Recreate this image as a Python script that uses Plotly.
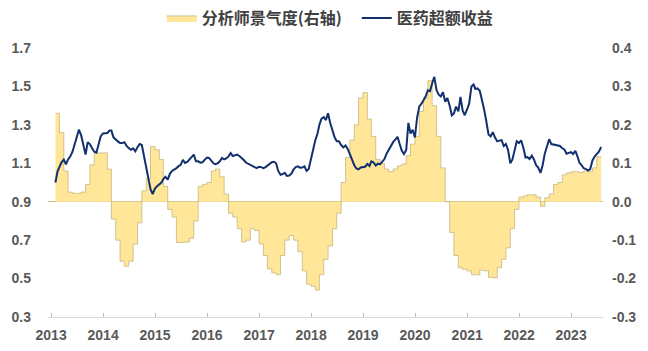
import pandas as pd
import plotly.graph_objects as go

# ---------------- data ----------------
series_area_name = "分析师景气度(右轴)"
series_line_name = "医药超额收益"

# monthly analyst sentiment (right axis), Jan 2013 .. Jun 2023 (month-end)
area_values = [
    0.23, 0.18, 0.08, 0.025, 0.022, 0.022, 0.025, 0.045, 0.096, 0.127,
    0.127, 0.127, 0.085, -0.045, -0.10, -0.155, -0.168, -0.155, -0.11, -0.055,
    0.028, 0.06, 0.144, 0.135, 0.11, 0.04, -0.02, -0.04, -0.106, -0.106,
    -0.105, -0.095, -0.05, 0.04, 0.045, 0.05, 0.08, 0.085, 0.065, 0.02,
    -0.03, -0.04, -0.07, -0.105, -0.10, -0.07, -0.075, -0.11, -0.14, -0.175,
    -0.185, -0.19, -0.14, -0.10, -0.088, -0.10, -0.13, -0.18, -0.215, -0.22,
    -0.23, -0.19, -0.15, -0.115, -0.07, -0.03, 0.05, 0.115, 0.16, 0.20,
    0.27, 0.284, 0.215, 0.17, 0.11, 0.10, 0.085, 0.078, 0.085, 0.093,
    0.098, 0.12, 0.15, 0.17, 0.235, 0.27, 0.315, 0.25, 0.17, 0.088,
    0.0, -0.08, -0.14, -0.172, -0.176, -0.18, -0.19, -0.19, -0.178, -0.18,
    -0.197, -0.198, -0.172, -0.15, -0.12, -0.07, -0.02, 0.012, 0.015, 0.018,
    0.018, 0.012, -0.012, 0.01, 0.02, 0.045, 0.05, 0.07, 0.075, 0.078,
    0.078, 0.076, 0.08, 0.078, 0.088, 0.117,
]

# semi-monthly pharma excess return (left axis), 2013-01-31 .. 2023-07-31
line_values = [
    1.0, 1.058, 1.08, 1.105, 1.119, 1.095, 1.12, 1.135, 1.16, 1.195,
    1.235, 1.275, 1.245, 1.2, 1.145, 1.21, 1.2, 1.18, 1.16, 1.155,
    1.2, 1.24, 1.255, 1.258, 1.258, 1.27, 1.27, 1.235, 1.222, 1.214,
    1.205, 1.205, 1.21, 1.19, 1.18, 1.17, 1.178, 1.162, 1.185, 1.2,
    1.195, 1.136, 1.09, 1.03, 0.965, 0.94, 0.968, 0.98, 0.99, 1.0,
    1.018, 1.03, 1.015, 1.045, 1.06, 1.066, 1.075, 1.085, 1.092, 1.118,
    1.102, 1.107, 1.12, 1.136, 1.145, 1.11, 1.11, 1.103, 1.105, 1.118,
    1.13, 1.128, 1.112, 1.1, 1.095, 1.1, 1.11, 1.128, 1.12, 1.125,
    1.136, 1.153, 1.138, 1.14, 1.145, 1.138, 1.128, 1.117, 1.104, 1.097,
    1.092, 1.086, 1.08, 1.075, 1.082, 1.08, 1.075, 1.08, 1.088, 1.1,
    1.106, 1.108, 1.1, 1.06, 1.04, 1.044, 1.05, 1.034, 1.036, 1.045,
    1.068, 1.08, 1.084, 1.077, 1.078, 1.084, 1.06, 1.07, 1.119, 1.18,
    1.222, 1.255, 1.3, 1.332, 1.34, 1.325, 1.36, 1.31, 1.27, 1.235,
    1.215, 1.215, 1.195, 1.183, 1.193, 1.175, 1.148, 1.12, 1.09, 1.073,
    1.068, 1.078, 1.08, 1.082, 1.096, 1.086, 1.11, 1.105, 1.088, 1.098,
    1.094, 1.105, 1.122, 1.15, 1.17, 1.182, 1.21, 1.223, 1.238, 1.2,
    1.165, 1.148, 1.17, 1.31, 1.255, 1.275, 1.235, 1.336, 1.396, 1.41,
    1.43, 1.447, 1.48, 1.475, 1.515, 1.55, 1.48, 1.457, 1.448, 1.47,
    1.42, 1.44, 1.40, 1.35, 1.36, 1.395, 1.37, 1.445, 1.375, 1.35,
    1.38, 1.41, 1.50, 1.51, 1.487, 1.49, 1.476, 1.43, 1.38, 1.32,
    1.25, 1.24, 1.262, 1.235, 1.214, 1.218, 1.22, 1.19, 1.2, 1.17,
    1.1, 1.12, 1.17, 1.215, 1.205, 1.22, 1.18, 1.13, 1.132, 1.122,
    1.14, 1.12, 1.09, 1.078, 1.05, 1.09, 1.15, 1.185, 1.225, 1.2,
    1.197, 1.192, 1.193, 1.19, 1.178, 1.172, 1.15, 1.155, 1.158, 1.148,
    1.165, 1.135, 1.104, 1.09, 1.074, 1.07, 1.062, 1.07, 1.115, 1.135,
    1.148, 1.16, 1.185,
]

year_labels = ["2013", "2014", "2015", "2016", "2017", "2018",
               "2019", "2020", "2021", "2022", "2023"]
left_ticks = [0.3, 0.5, 0.7, 0.9, 1.1, 1.3, 1.5, 1.7]
left_labels = ["0.3", "0.5", "0.7", "0.9", "1.1", "1.3", "1.5", "1.7"]
right_ticks = [-0.3, -0.2, -0.1, 0.0, 0.1, 0.2, 0.3, 0.4]
right_labels = ["-0.3", "-0.2", "-0.1", "0.0", "0.1", "0.2", "0.3", "0.4"]

# ---------------- dates ----------------
def _range(start, n, freqs):
    for f in freqs:
        try:
            return pd.date_range(start, periods=n, freq=f)
        except Exception:
            continue
    raise RuntimeError("no freq")

area_dates = _range("2013-01-31", len(area_values) + 1, ["ME", "M"])
area_y = area_values + [area_values[-1]]
line_dates = _range("2013-01-31", len(line_values), ["SME", "SM"])

# ---------------- figure ----------------
tick_font = dict(family="Liberation Sans, Arial, sans-serif", size=14,
                 color="#595959", weight="bold")

fig = go.Figure()
fig.add_trace(go.Scatter(
    x=area_dates, y=area_y, name=series_area_name, yaxis="y",
    mode="lines", line=dict(shape="hv", color="rgb(200,182,125)", width=0.8),
    fill="tozeroy", fillcolor="#FFE699",
))
fig.add_trace(go.Scatter(
    x=line_dates, y=line_values, name=series_line_name, yaxis="y2",
    mode="lines", line=dict(color="#13306E", width=2),
))

fig.update_layout(
    width=648, height=351,
    margin=dict(l=48, r=45, t=48, b=34, autoexpand=False),
    plot_bgcolor="white", paper_bgcolor="white",
    showlegend=True,
    legend=dict(
        orientation="h", x=0.205, xanchor="left", y=1.1115, yanchor="middle",
        font=dict(family="Noto Sans CJK SC", size=16, color="#404040", weight="bold"),
        bgcolor="rgba(0,0,0,0)", itemwidth=30, traceorder="normal",
        entrywidth=150, entrywidthmode="pixels",
    ),
    xaxis=dict(
        type="date", range=["2012-12-10", "2023-08-13"],
        tickvals=[f"{y}-01-01" for y in year_labels], ticktext=year_labels,
        ticks="inside", ticklen=4, tickcolor="#BFBFBF", tickwidth=1,
        showline=True, linecolor="#D9D9D9", linewidth=1,
        showgrid=False, zeroline=False, tickfont=tick_font,
        ticklabelstandoff=5,
    ),
    yaxis=dict(
        side="right", range=[-0.3, 0.4], tickvals=right_ticks, ticktext=right_labels,
        showgrid=False, zeroline=True, zerolinecolor="rgb(205,190,140)", zerolinewidth=1,
        showline=False, ticks="", tickfont=tick_font, ticklabelstandoff=8,
    ),
    yaxis2=dict(
        side="left", overlaying="y", range=[0.3, 1.7], tickvals=left_ticks,
        ticktext=left_labels, showgrid=False, zeroline=False, showline=False,
        ticks="", tickfont=tick_font, ticklabelstandoff=16,
    ),
)

fig.write_html("out.html")
